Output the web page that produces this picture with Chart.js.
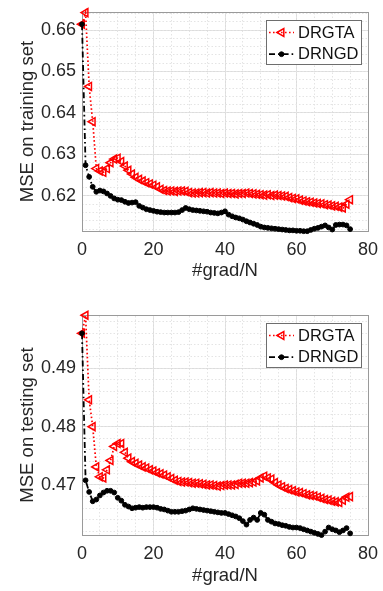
<!DOCTYPE html>
<html>
<head>
<meta charset="utf-8">
<script src="https://cdn.jsdelivr.net/npm/chart.js@4.4.0/dist/chart.umd.min.js"></script>
<style>
  body { margin: 0; background: #fff; }
  canvas { position: absolute; left: 0; }
  #trainChart { top: 0; }
  #testChart { top: 295px; }
</style>
</head>
<body>
<canvas id="trainChart" width="383" height="295"></canvas>
<canvas id="testChart" width="383" height="296"></canvas>
<script>
// values, one per #grad/N step (0..75)
const trainDRGTA = [
  0.6614, 0.6642, 0.6464, 0.6379, 0.6266, 0.6260, 0.6257, 0.6266, 0.6280, 0.6289,
  0.6291, 0.6283, 0.6272, 0.6262, 0.6253, 0.6245, 0.6240, 0.6236, 0.6232, 0.6229,
  0.6226, 0.6222, 0.6216, 0.6213, 0.6212, 0.6212, 0.6211, 0.6212, 0.6212, 0.6211,
  0.6208, 0.6207, 0.6207, 0.6208, 0.6208, 0.6207, 0.6208, 0.6207, 0.6207, 0.6206,
  0.6207, 0.6206, 0.6206, 0.6205, 0.6206, 0.6206, 0.6207, 0.6206, 0.6205, 0.6204,
  0.6203, 0.6202, 0.6203, 0.6201, 0.6202, 0.6201, 0.6200, 0.6199, 0.6196, 0.6194,
  0.6193, 0.6190, 0.6188, 0.6186, 0.6185, 0.6183, 0.6182, 0.6181, 0.6179, 0.6178,
  0.6176, 0.6175, 0.6173, 0.6171, 0.6180, 0.6191
];
const trainDRNGD = [
  0.6614, 0.6274, 0.6246, 0.6222, 0.6210, 0.6213, 0.6211, 0.6206, 0.6200, 0.6194,
  0.6191, 0.6190, 0.6186, 0.6183, 0.6184, 0.6185, 0.6176, 0.6172, 0.6168, 0.6166,
  0.6164, 0.6162, 0.6161, 0.6160, 0.6160, 0.6160, 0.6160, 0.6161, 0.6166, 0.6171,
  0.6168, 0.6166, 0.6165, 0.6164, 0.6163, 0.6162, 0.6160, 0.6159, 0.6158, 0.6160,
  0.6163, 0.6155, 0.6151, 0.6148, 0.6146, 0.6143, 0.6139, 0.6136, 0.6133, 0.6130,
  0.6126, 0.6124, 0.6123, 0.6122, 0.6121, 0.6120, 0.6119, 0.6118, 0.6117, 0.6117,
  0.6116, 0.6116, 0.6115, 0.6115, 0.6118, 0.6121, 0.6123, 0.6126, 0.6129, 0.6124,
  0.6119, 0.6130, 0.6131, 0.6131, 0.6129, 0.6120
];
const testDRGTA = [
  0.4960, 0.4991, 0.4846, 0.4800, 0.4731, 0.4714, 0.4712, 0.4726, 0.4742, 0.4766,
  0.4771, 0.4771, 0.4756, 0.4746, 0.4740, 0.4737, 0.4734, 0.4731, 0.4729, 0.4726,
  0.4724, 0.4721, 0.4719, 0.4717, 0.4714, 0.4711, 0.4708, 0.4706, 0.4705, 0.4705,
  0.4704, 0.4703, 0.4703, 0.4702, 0.4701, 0.4700, 0.4700, 0.4699, 0.4698, 0.4699,
  0.4700, 0.4700, 0.4700, 0.4701, 0.4703, 0.4703, 0.4703, 0.4704, 0.4705, 0.4707,
  0.4712, 0.4715, 0.4712, 0.4710, 0.4704, 0.4700, 0.4697, 0.4694, 0.4692, 0.4690,
  0.4688, 0.4687, 0.4685, 0.4683, 0.4682, 0.4681, 0.4679, 0.4677, 0.4675, 0.4674,
  0.4672, 0.4671, 0.4670, 0.4674, 0.4679, 0.4680
];
const testDRNGD = [
  0.4960, 0.4708, 0.4688, 0.4672, 0.4675, 0.4682, 0.4687, 0.4690, 0.4690, 0.4687,
  0.4678, 0.4673, 0.4666, 0.4663, 0.4660, 0.4661, 0.4662, 0.4661, 0.4662, 0.4662,
  0.4662, 0.4661, 0.4659, 0.4658, 0.4656, 0.4654, 0.4654, 0.4654, 0.4655, 0.4656,
  0.4658, 0.4660, 0.4659, 0.4658, 0.4657, 0.4656, 0.4655, 0.4654, 0.4653, 0.4652,
  0.4652, 0.4650, 0.4648, 0.4646, 0.4643, 0.4638, 0.4632, 0.4640, 0.4644, 0.4640,
  0.4652, 0.4649, 0.4640, 0.4637, 0.4634, 0.4633, 0.4631, 0.4630, 0.4628, 0.4627,
  0.4627, 0.4626, 0.4624, 0.4622, 0.4620, 0.4618, 0.4616, 0.4614, 0.4620, 0.4627,
  0.4624, 0.4622, 0.4619, 0.4622, 0.4626, 0.4617
];

const seriesNames = ['DRGTA', 'DRNGD'];
const xTicks = [0, 20, 40, 60, 80];
const trainYTicks = [0.62, 0.63, 0.64, 0.65, 0.66];
const trainYLabels = ['0.62', '0.63', '0.64', '0.65', '0.66'];
const testYTicks = [0.47, 0.48, 0.49];
const testYLabels = ['0.47', '0.48', '0.49'];

const FONT = '"Liberation Sans", Arial, Helvetica, sans-serif';
const TEXT = '#262626';
const BOX = '#9a9a9a';

const toPoints = (arr) => arr.map((v, i) => ({ x: i, y: v }));

// legend box drawn inside the axes, top right
const insideLegend = {
  id: 'insideLegend',
  afterDatasetsDraw(chart) {
    const { ctx, chartArea } = chart;
    const boxW = 95;
    const boxH = 44;
    const x0 = Math.round(chartArea.right - 7 - boxW);
    const y0 = Math.round(chartArea.top + 8);
    ctx.save();
    ctx.fillStyle = '#fff';
    ctx.fillRect(x0, y0, boxW, boxH);
    ctx.strokeStyle = '#6e6e6e';
    ctx.lineWidth = 1;
    ctx.strokeRect(x0 + 0.5, y0 + 0.5, boxW, boxH);

    chart.data.datasets.forEach((ds, i) => {
      const cy = y0 + 12.5 + i * 21.7;
      ctx.setLineDash(ds.borderDash);
      ctx.strokeStyle = ds.borderColor;
      ctx.lineWidth = ds.borderWidth;
      ctx.beginPath();
      ctx.moveTo(x0 + 3, cy);
      ctx.lineTo(x0 + 28, cy);
      ctx.stroke();
      ctx.setLineDash([]);

      ctx.strokeStyle = ds.pointBorderColor;
      ctx.fillStyle = ds.pointBackgroundColor;
      ctx.lineWidth = ds.pointBorderWidth;
      Chart.helpers.drawPoint(ctx, {
        pointStyle: ds.pointStyle,
        rotation: ds.pointRotation,
        radius: ds.pointRadius,
        borderWidth: ds.pointBorderWidth,
      }, x0 + 15.5, cy);

      ctx.fillStyle = '#111';
      ctx.font = `16.5px ${FONT}`;
      ctx.textBaseline = 'middle';
      ctx.textAlign = 'left';
      ctx.fillText(ds.label, x0 + 32, cy + 0.5);
    });
    ctx.restore();
  },
};

const buildChart = (canvas, cfg) => {
  const minorY = [];
  for (let v = Math.ceil(cfg.yMin / 0.002) * 0.002; v <= cfg.yMax; v += 0.002) {
    minorY.push({ value: v });
  }
  const minorX = [];
  for (let v = 0; v <= 80; v += 5) {
    minorX.push({ value: v });
  }

  return new Chart(canvas, {
    type: 'line',
    data: {
      datasets: [
        {
          label: seriesNames[0],
          data: toPoints(cfg.red),
          order: 1,
          borderColor: '#ff0000',
          borderWidth: 1.7,
          borderDash: [1.6, 2.4],
          pointStyle: 'triangle',
          pointRotation: -90,
          pointRadius: 4.6,
          pointBorderWidth: 1.5,
          pointBorderColor: '#ff0000',
          pointBackgroundColor: 'rgba(255,255,255,0)',
          tension: 0,
          clip: false,
        },
        {
          label: seriesNames[1],
          data: toPoints(cfg.black),
          order: 0,
          borderColor: '#000000',
          borderWidth: 1.8,
          borderDash: [6, 3, 1.6, 3],
          pointStyle: 'circle',
          pointRadius: 2.4,
          pointBorderWidth: 1,
          pointBorderColor: '#000000',
          pointBackgroundColor: '#000000',
          tension: 0,
          clip: false,
        },
      ],
    },
    options: {
      responsive: false,
      devicePixelRatio: 1,
      animation: false,
      events: [],
      layout: { padding: { top: cfg.padTop, right: 15, left: 0, bottom: 0 } },
      plugins: {
        legend: { display: false },
        tooltip: { enabled: false },
      },
      scales: {
        x: {
          type: 'linear',
          position: 'bottom',
          min: 0,
          max: 80,
          afterBuildTicks: (s) => { s.ticks = xTicks.map((v) => ({ value: v })); },
          afterFit: (s) => { s.height = cfg.axisH; s.paddingLeft = 0; s.paddingRight = 0; },
          ticks: {
            padding: 8,
            color: TEXT,
            font: { family: FONT, size: 18 },
            maxRotation: 0,
            callback: (v) => String(v),
          },
          grid: { color: '#dcdcdc', lineWidth: 1, drawTicks: false },
          border: { display: true, color: BOX, width: 1 },
          title: {
            display: true,
            text: '#grad/N',
            color: TEXT,
            font: { family: FONT, size: 18.5 },
            padding: { top: 0, bottom: cfg.titlePad },
          },
        },
        xMinor: {
          type: 'linear',
          position: 'top',
          min: 0,
          max: 80,
          afterBuildTicks: (s) => { s.ticks = minorX; },
          afterFit: (s) => { s.height = 0; s.paddingLeft = 0; s.paddingRight = 0; },
          ticks: { display: false },
          grid: { color: '#e4e4e4', lineWidth: 1, drawTicks: false },
          border: { display: true, color: BOX, width: 1, dash: [1.5, 2] },
        },
        y: {
          type: 'linear',
          position: 'left',
          min: cfg.yMin,
          max: cfg.yMax,
          afterBuildTicks: (s) => { s.ticks = cfg.yTicks.map((v) => ({ value: v })); },
          afterFit: (s) => { s.width = 82; s.paddingTop = 0; s.paddingBottom = 0; },
          ticks: {
            padding: 6,
            color: TEXT,
            font: { family: FONT, size: 18 },
            callback: (v, i) => cfg.yLabels[i],
          },
          grid: { color: '#dcdcdc', lineWidth: 1, drawTicks: false },
          border: { display: true, color: BOX, width: 1 },
          title: {
            display: true,
            text: cfg.yTitle,
            color: TEXT,
            font: { family: FONT, size: 18.5 },
            padding: { top: 17, bottom: 0 },
          },
        },
        yMinor: {
          type: 'linear',
          position: 'right',
          min: cfg.yMin,
          max: cfg.yMax,
          afterBuildTicks: (s) => { s.ticks = minorY; },
          afterFit: (s) => { s.width = 0; s.paddingTop = 0; s.paddingBottom = 0; },
          ticks: { display: false },
          grid: { color: '#e4e4e4', lineWidth: 1, drawTicks: false },
          border: { display: true, color: BOX, width: 1, dash: [1.5, 2] },
        },
      },
    },
    plugins: [insideLegend],
  });
};

buildChart(document.getElementById('trainChart'), {
  red: trainDRGTA,
  black: trainDRNGD,
  yMin: 0.61155,
  yMax: 0.66435,
  yTicks: trainYTicks,
  yLabels: trainYLabels,
  yTitle: 'MSE on training set',
  padTop: 12,
  axisH: 64,
  titlePad: 13,
});

buildChart(document.getElementById('testChart'), {
  red: testDRGTA,
  black: testDRNGD,
  yMin: 0.46142,
  yMax: 0.49914,
  yTicks: testYTicks,
  yLabels: testYLabels,
  yTitle: 'MSE on testing set',
  padTop: 20,
  axisH: 56,
  titlePad: 4,
});
</script>
</body>
</html>
